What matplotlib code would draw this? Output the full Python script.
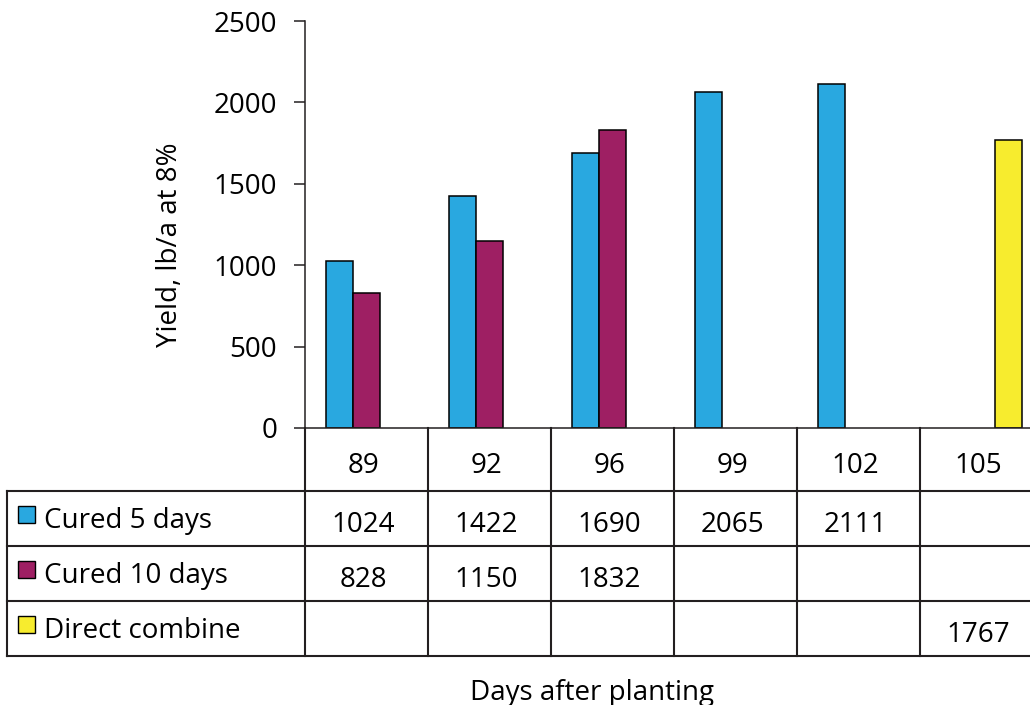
import numpy as np
import matplotlib
matplotlib.use("Agg")
import matplotlib.pyplot as plt
from matplotlib.patches import Rectangle

plt.rcParams['font.family'] = ['Open Sans', 'DejaVu Sans']

# ---- data ----
days = ["89", "92", "96", "99", "102", "105"]
series_names = ["Cured 5 days", "Cured 10 days", "Direct combine"]
cured5 = [1024, 1422, 1690, 2065, 2111, np.nan]
cured10 = [828, 1150, 1832, np.nan, np.nan, np.nan]
direct = [np.nan, np.nan, np.nan, np.nan, np.nan, 1767]
yticks = [0, 500, 1000, 1500, 2000, 2500]
ylabel = "Yield, lb/a at 8%"
xlabel = "Days after planting"

colors = ["#29A8E0", "#9E1F63", "#F7EC2E"]
ink = "#231F20"
W, H = 1030, 705
FS = 20

fig = plt.figure(figsize=(W / 100, H / 100), dpi=100)
fig.patch.set_facecolor("white")


def px_rect(x0, y0, x1, y1):
    return [x0 / W, 1 - y1 / H, (x1 - x0) / W, (y1 - y0) / H]


# ---- chart ----
ax = fig.add_axes(px_rect(305, 21, 1043, 428))
x = np.arange(len(days))
bw = 0.22
for i, vals in enumerate([cured5, cured10, direct]):
    ax.bar(x + (i - 1) * bw, vals, width=bw, color=colors[i],
           edgecolor="black", linewidth=1.1, zorder=3)
ax.set_xlim(-0.5, len(days) - 0.5)
ax.set_ylim(0, 2500)
ax.set_yticks(yticks)
ax.set_yticklabels([str(v) for v in yticks], fontsize=FS, color="black")
ax.set_xticks([])
ax.tick_params(axis="y", direction="out", length=8, width=1.1, color=ink, pad=12)
for s in ["top", "right"]:
    ax.spines[s].set_visible(False)
for s in ["left", "bottom"]:
    ax.spines[s].set_linewidth(1.1)
    ax.spines[s].set_color(ink)
ax.spines["bottom"].set_zorder(4)

fig.text(170 / W, 1 - 245 / H, ylabel, rotation=90, fontsize=FS,
         ha="center", va="center")

# ---- data table ----
lab_w = 298 / 123
xl = -0.5 - lab_w
hdr = 63 / 55
tax = fig.add_axes(px_rect(7, 428, 1043, 656))
tax.set_xlim(xl, len(days) - 0.5)
tax.set_ylim(0, 3 + hdr)
tax.axis("off")
lw = 1.5
for yy in [0, 1, 2, 3]:
    tax.plot([xl, len(days) - 0.5], [yy, yy], color=ink, lw=lw, clip_on=False,
             solid_capstyle="projecting")
tax.plot([xl, xl], [0, 3], color=ink, lw=lw, clip_on=False)
for k in range(len(days) + 1):
    tax.plot([k - 0.5, k - 0.5], [0, 3 + hdr], color=ink, lw=lw, clip_on=False)

for j, d in enumerate(days):
    tax.text(j - 0.025, 3 + hdr - 44.7 / 55, d, ha="center", va="baseline",
             fontsize=FS)

for i, (name, vals) in enumerate(zip(series_names, [cured5, cured10, direct])):
    top = 3 - i
    tax.add_patch(Rectangle((xl + 11 / 123, top - 32 / 55), 17 / 123, 17 / 55,
                            facecolor=colors[i], edgecolor="black", lw=1.0,
                            clip_on=False))
    tax.text(xl + 37 / 123, top - 37 / 55, name, ha="left", va="baseline",
             fontsize=FS)
    for j, v in enumerate(vals):
        if not np.isnan(v):
            tax.text(j - 0.025, top - 41 / 55, f"{int(v)}", ha="center",
                     va="baseline", fontsize=FS)

fig.text(592 / W, 1 - 679 / H, xlabel, ha="center", va="top", fontsize=FS)

fig.savefig("out.png", dpi=100, facecolor="white")
